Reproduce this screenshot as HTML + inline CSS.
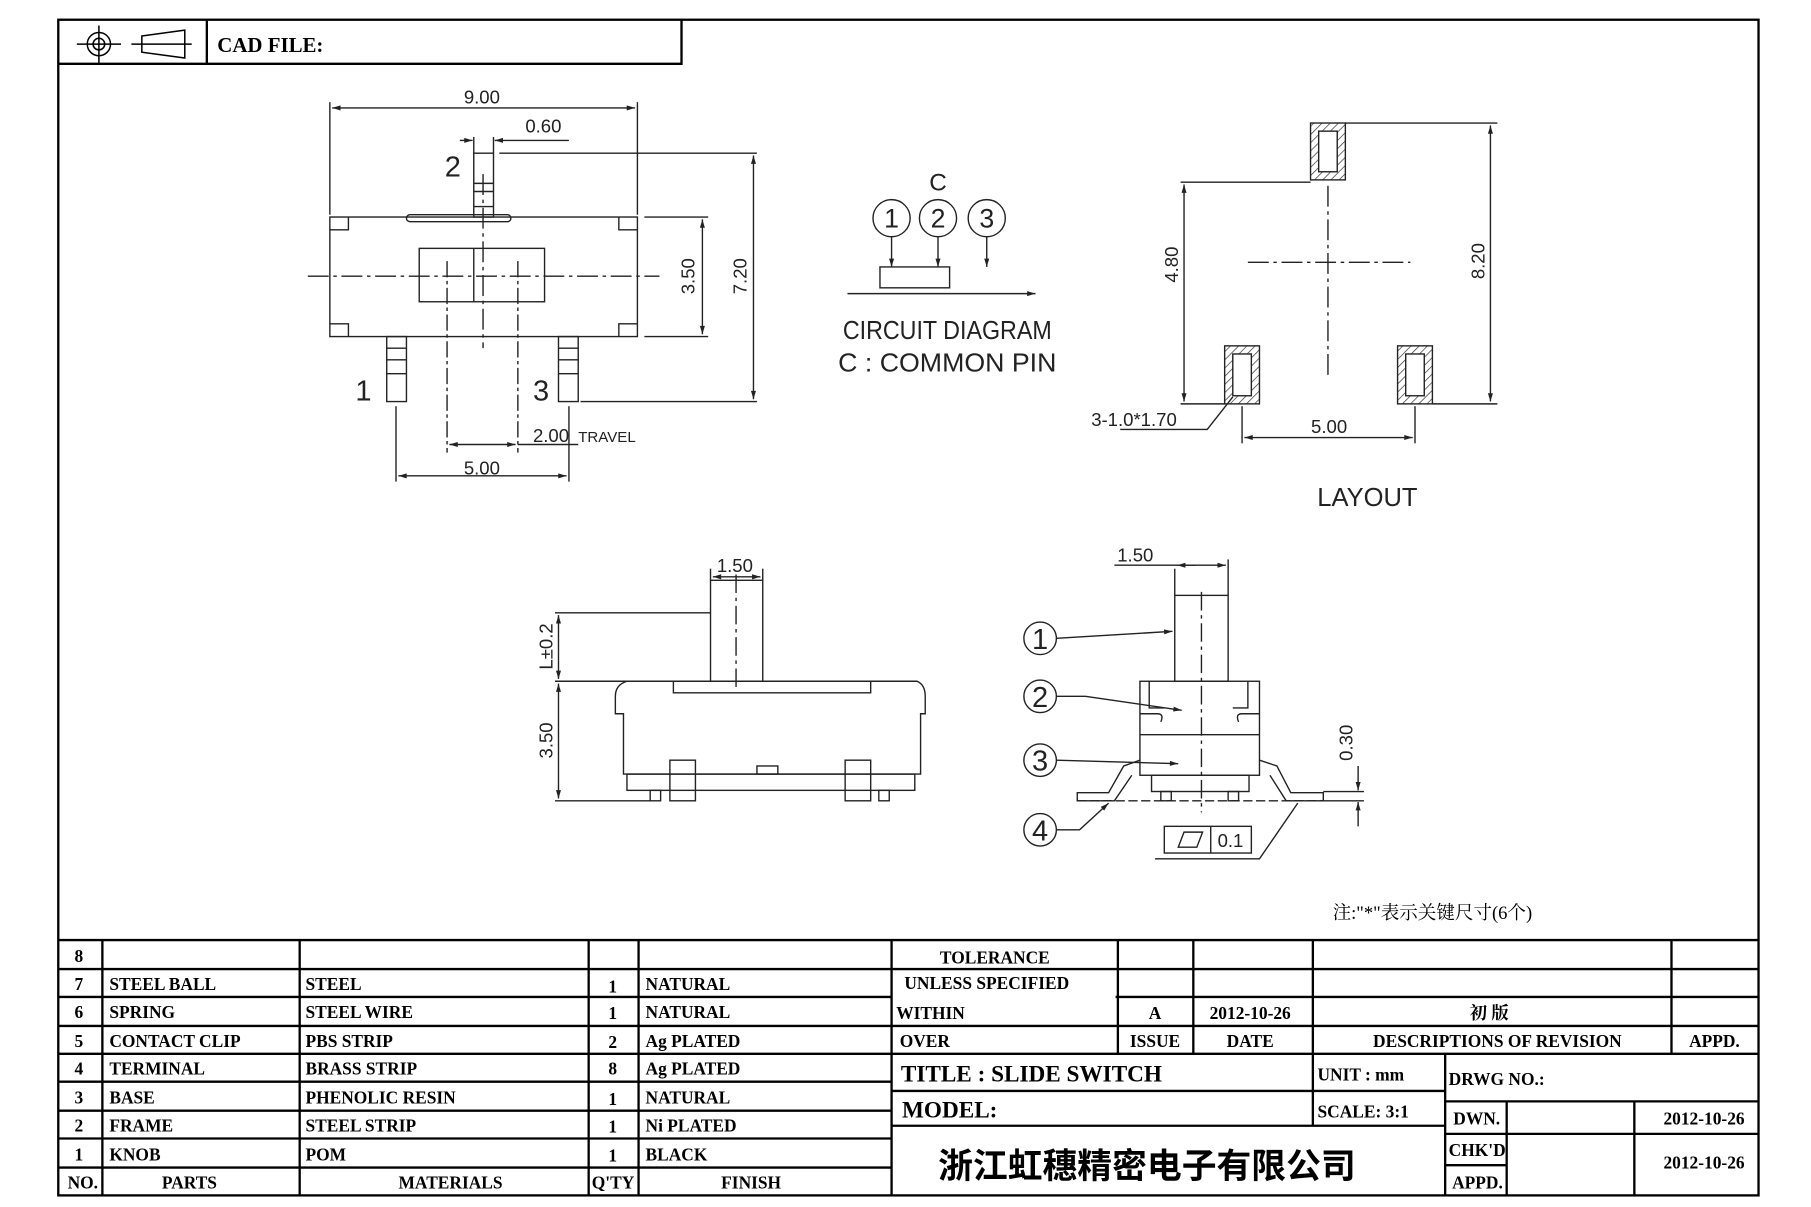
<!DOCTYPE html>
<html><head><meta charset="utf-8"><style>
html,body{margin:0;padding:0;background:#fff;}
svg{display:block;}
.t{font-family:"Liberation Serif",serif;font-weight:bold;fill:#000;}
.d{font-family:"Liberation Sans","DejaVu Sans",sans-serif;fill:#222;}
</style></head><body>
<svg width="1811" height="1207" viewBox="0 0 1560 1040" font-size="16" xmlns="http://www.w3.org/2000/svg">
<defs>
<marker id="a" viewBox="0 0 10 10" refX="10" refY="5" markerWidth="8" markerHeight="6" orient="auto-start-reverse"><path d="M0,2 L10,5 L0,8z" fill="#222"/></marker>
<pattern id="h" width="5" height="5" patternUnits="userSpaceOnUse" patternTransform="rotate(45)"><line x1="0" y1="0" x2="0" y2="5" stroke="#333" stroke-width="1.2"/></pattern>
</defs>
<rect width="1560" height="1040" fill="#fff"/>
<g fill="none" stroke="#000" stroke-width="2">
<rect x="50" y="17" width="1465" height="1013"/>
<polyline points="50,55 587,55 587,17"/>
<line x1="178" y1="17" x2="178" y2="55"/>
</g>
<g fill="none" stroke="#000" stroke-width="1.3">
<circle cx="85" cy="38" r="10"/><circle cx="85" cy="38" r="5"/>
<line x1="66" y1="38" x2="104" y2="38"/><line x1="85" y1="22" x2="85" y2="54"/>
<polygon points="122,31 159,26 159,50 122,45"/><line x1="113" y1="38" x2="165" y2="38"/>
</g>
<text x="187" y="45" class="t" font-size="18">CAD  FILE:</text>

<!-- top-left view -->
<g fill="none" stroke="#222" stroke-width="1.2">
<line x1="284" y1="88" x2="284" y2="185"/><line x1="549" y1="88" x2="549" y2="185"/>
<line x1="286" y1="93" x2="547" y2="93" marker-start="url(#a)" marker-end="url(#a)"/>
<line x1="408" y1="118" x2="408" y2="132"/><line x1="425" y1="118" x2="425" y2="132"/>
<line x1="396" y1="121" x2="407" y2="121" marker-end="url(#a)"/>
<line x1="490" y1="121" x2="426" y2="121" marker-end="url(#a)"/>
<rect x="408" y="132" width="17" height="55"/>
<line x1="408" y1="158" x2="425" y2="158"/><line x1="408" y1="165" x2="425" y2="165"/><line x1="408" y1="178" x2="425" y2="178"/>
<rect x="284" y="187" width="265" height="103"/>
<rect x="350" y="185" width="90" height="6" rx="3"/>
<path d="M284,198 H300 V187 M549,198 H533 V187 M284,279 H300 V290 M549,279 H533 V290"/>
<rect x="361" y="214" width="108" height="46"/>
<line x1="408" y1="214" x2="408" y2="260"/>
<line x1="265" y1="238" x2="568" y2="238" stroke-dasharray="18,4,3,4"/>
<line x1="416" y1="150" x2="416" y2="300" stroke-dasharray="18,4,3,4"/>
<line x1="385" y1="225" x2="385" y2="390" stroke-dasharray="14,3,3,3"/>
<line x1="446" y1="225" x2="446" y2="390" stroke-dasharray="14,3,3,3"/>
<line x1="555" y1="187" x2="610" y2="187"/><line x1="555" y1="290" x2="610" y2="290"/>
<line x1="605" y1="189" x2="605" y2="288" marker-start="url(#a)" marker-end="url(#a)"/>
<line x1="430" y1="132" x2="652" y2="132"/><line x1="500" y1="346" x2="652" y2="346"/>
<line x1="649" y1="134" x2="649" y2="344" marker-start="url(#a)" marker-end="url(#a)"/>
<rect x="333" y="290" width="17" height="56"/><line x1="333" y1="300" x2="350" y2="300"/><line x1="333" y1="310" x2="350" y2="310"/><line x1="333" y1="322" x2="350" y2="322"/>
<rect x="481" y="290" width="17" height="56"/><line x1="481" y1="300" x2="498" y2="300"/><line x1="481" y1="310" x2="498" y2="310"/><line x1="481" y1="322" x2="498" y2="322"/>
<line x1="387" y1="383" x2="444" y2="383" marker-start="url(#a)" marker-end="url(#a)"/>
<line x1="446" y1="383" x2="498" y2="383"/>
<line x1="341" y1="350" x2="341" y2="415"/><line x1="490" y1="350" x2="490" y2="415"/>
<line x1="343" y1="410" x2="488" y2="410" marker-start="url(#a)" marker-end="url(#a)"/>
</g>
<text x="415" y="89" class="d" text-anchor="middle">9.00</text>
<text x="468" y="114" class="d" text-anchor="middle">0.60</text>
<text x="383" y="152" class="d" font-size="25">2</text>
<text x="306" y="345" class="d" font-size="25">1</text>
<text x="459" y="345" class="d" font-size="25">3</text>
<text x="459" y="381" class="d">2.00</text><text x="498" y="381" class="d" font-size="13">TRAVEL</text>
<text x="415" y="409" class="d" text-anchor="middle">5.00</text>
<text class="d" transform="translate(598,238) rotate(-90)" text-anchor="middle">3.50</text>
<text class="d" transform="translate(643,238) rotate(-90)" text-anchor="middle">7.20</text>

<!-- circuit -->
<g fill="none" stroke="#222" stroke-width="1.2">
<circle cx="768" cy="188" r="16"/><circle cx="808" cy="188" r="16"/><circle cx="850" cy="188" r="16"/>
<line x1="768" y1="204" x2="768" y2="230" marker-end="url(#a)"/>
<line x1="808" y1="204" x2="808" y2="230" marker-end="url(#a)"/>
<line x1="850" y1="204" x2="850" y2="230" marker-end="url(#a)"/>
<rect x="758" y="230" width="60" height="18"/>
<line x1="730" y1="253" x2="892" y2="253" marker-end="url(#a)"/>
</g>
<text x="808" y="164" class="d" font-size="21" text-anchor="middle">C</text>
<text x="768" y="196" class="d" font-size="23" text-anchor="middle">1</text>
<text x="808" y="196" class="d" font-size="23" text-anchor="middle">2</text>
<text x="850" y="196" class="d" font-size="23" text-anchor="middle">3</text>
<text x="726" y="292" class="d" font-size="22" textLength="180" lengthAdjust="spacingAndGlyphs">CIRCUIT  DIAGRAM</text>
<text x="722" y="320" class="d" font-size="22" textLength="188" lengthAdjust="spacingAndGlyphs">C : COMMON  PIN</text>

<!-- layout -->
<g fill="none" stroke="#222" stroke-width="1.2">
<rect x="1129" y="106" width="30" height="49" fill="url(#h)"/><rect x="1136" y="113" width="16" height="35" fill="#fff"/>
<rect x="1055" y="298" width="30" height="50" fill="url(#h)"/><rect x="1062" y="305" width="16" height="36" fill="#fff"/>
<rect x="1204" y="298" width="30" height="50" fill="url(#h)"/><rect x="1211" y="305" width="16" height="36" fill="#fff"/>
<line x1="1075" y1="226" x2="1215" y2="226" stroke-dasharray="18,4,3,4"/>
<line x1="1144" y1="160" x2="1144" y2="325" stroke-dasharray="18,4,3,4"/>
<line x1="1017" y1="157" x2="1129" y2="157"/>
<line x1="1020" y1="159" x2="1020" y2="346" marker-start="url(#a)" marker-end="url(#a)"/>
<line x1="1017" y1="348" x2="1055" y2="348"/>
<line x1="1159" y1="106" x2="1290" y2="106"/><line x1="1234" y1="348" x2="1290" y2="348"/>
<line x1="1284" y1="108" x2="1284" y2="346" marker-start="url(#a)" marker-end="url(#a)"/>
<line x1="1070" y1="350" x2="1070" y2="382"/><line x1="1219" y1="350" x2="1219" y2="382"/>
<line x1="1072" y1="377" x2="1217" y2="377" marker-start="url(#a)" marker-end="url(#a)"/>
<polyline points="965,370 1040,370 1062,342"/>
</g>
<text class="d" transform="translate(1015,228) rotate(-90)" text-anchor="middle">4.80</text>
<text class="d" transform="translate(1279,225) rotate(-90)" text-anchor="middle">8.20</text>
<text x="1145" y="373" class="d" text-anchor="middle">5.00</text>
<text x="940" y="367" class="d">3-1.0*1.70</text>
<text x="1178" y="436" class="d" font-size="22" text-anchor="middle">LAYOUT</text>

<!-- side view -->
<g fill="none" stroke="#222" stroke-width="1.2">
<line x1="612" y1="490" x2="612" y2="500"/><line x1="657" y1="490" x2="657" y2="500"/>
<line x1="614" y1="497" x2="655" y2="497" marker-start="url(#a)" marker-end="url(#a)"/>
<rect x="612" y="500" width="45" height="87"/>
<line x1="634" y1="495" x2="634" y2="595" stroke-dasharray="16,4,3,4"/>
<line x1="478" y1="528" x2="612" y2="528"/>
<line x1="478" y1="690" x2="560" y2="690"/>
<line x1="481" y1="530" x2="481" y2="585" marker-start="url(#a)" marker-end="url(#a)"/>
<line x1="481" y1="589" x2="481" y2="688" marker-start="url(#a)" marker-end="url(#a)"/>
<path d="M478,587 H790 Q797,590 797,600 V615 H793 V667 H537 V615 H530 V600 Q530,590 540,587"/>
<path d="M580,587 V597 H750 V587"/>
<rect x="540" y="667" width="248" height="14"/>
<rect x="577" y="655" width="22" height="35"/><rect x="728" y="655" width="22" height="35"/>
<rect x="652" y="660" width="18" height="7"/>
<rect x="560" y="681" width="9" height="9"/><rect x="757" y="681" width="9" height="9"/>
</g>
<text x="633" y="493" class="d" text-anchor="middle">1.50</text>
<text class="d" transform="translate(476,557) rotate(-90)" text-anchor="middle">L±0.2</text>
<text class="d" transform="translate(476,638) rotate(-90)" text-anchor="middle">3.50</text>

<!-- front view -->
<g fill="none" stroke="#222" stroke-width="1.2">
<line x1="1012" y1="490" x2="1012" y2="513"/><line x1="1058" y1="482" x2="1058" y2="513"/>
<line x1="960" y1="487" x2="1056" y2="487" marker-end="url(#a)"/>
<line x1="1014" y1="487" x2="1030" y2="487" marker-start="url(#a)"/>
<rect x="1012" y="513" width="46" height="74"/>
<line x1="1035" y1="510" x2="1035" y2="700" stroke-dasharray="16,4,3,4"/>
<rect x="982" y="587" width="103" height="81"/>
<line x1="982" y1="633" x2="1085" y2="633"/>
<path d="M990,587 V610 H1003 M1075,587 V610 H1062 M982,615 H997 Q1003,615 1000,622 M1085,615 H1070 Q1064,615 1067,622"/>
<path d="M982,655 L968,660 L955,683 H928 V690 H960 L975,668"/>
<path d="M1085,655 L1100,660 L1112,683 H1140 V690 H1108 L1094,668"/>
<rect x="992" y="668" width="84" height="14"/>
<rect x="1000" y="682" width="9" height="8"/><rect x="1058" y="682" width="9" height="8"/>
<line x1="928" y1="690" x2="1140" y2="690" stroke-dasharray="8,3"/>
<line x1="1140" y1="682" x2="1175" y2="682"/><line x1="1140" y1="690" x2="1175" y2="690"/>
<line x1="1170" y1="660" x2="1170" y2="681" marker-end="url(#a)"/>
<line x1="1170" y1="712" x2="1170" y2="691" marker-end="url(#a)"/>
<circle cx="896" cy="550" r="14"/><circle cx="896" cy="600" r="14"/><circle cx="896" cy="655" r="14"/><circle cx="896" cy="715" r="14"/>
<path d="M910,550 L1010,544" marker-end="url(#a)"/>
<path d="M910,600 L935,600 L1018,612" marker-end="url(#a)"/>
<path d="M910,655 L1015,658" marker-end="url(#a)"/>
<path d="M910,715 L930,715 L955,692" marker-end="url(#a)"/>
<rect x="1003" y="712" width="75" height="23"/><line x1="1043" y1="712" x2="1043" y2="735"/>
<polygon points="1015,730 1020,717 1036,717 1031,730"/>
<polyline points="995,740 1085,740 1118,692"/>
</g>
<text x="978" y="484" class="d" text-anchor="middle">1.50</text>
<text x="896" y="559" class="d" font-size="25" text-anchor="middle">1</text>
<text x="896" y="609" class="d" font-size="25" text-anchor="middle">2</text>
<text x="896" y="664" class="d" font-size="25" text-anchor="middle">3</text>
<text x="896" y="724" class="d" font-size="25" text-anchor="middle">4</text>
<text x="1060" y="730" class="d" text-anchor="middle">0.1</text>
<text class="d" transform="translate(1165,640) rotate(-90)" text-anchor="middle">0.30</text>
<text x="1148" y="792" font-family="'Liberation Serif','Noto Serif CJK SC',serif" font-size="16">注:"*"表示关键尺寸(6个)</text>

<!-- table -->
<g stroke="#000" stroke-width="2" fill="none">
<line x1="50" y1="810" x2="1515" y2="810"/>
<line x1="50" y1="835" x2="1515" y2="835"/>
<line x1="50" y1="859" x2="768" y2="859"/><line x1="961" y1="859" x2="1515" y2="859"/>
<line x1="50" y1="884" x2="1515" y2="884"/>
<line x1="50" y1="908" x2="1515" y2="908"/>
<line x1="50" y1="932" x2="768" y2="932"/>
<line x1="50" y1="957" x2="768" y2="957"/>
<line x1="50" y1="981" x2="768" y2="981"/>
<line x1="50" y1="1006" x2="768" y2="1006"/>
<line x1="88" y1="810" x2="88" y2="1030"/><line x1="258" y1="810" x2="258" y2="1030"/>
<line x1="507" y1="810" x2="507" y2="1030"/><line x1="550" y1="810" x2="550" y2="1030"/>
<line x1="768" y1="810" x2="768" y2="1030"/>
<line x1="963" y1="810" x2="963" y2="908"/><line x1="1028" y1="810" x2="1028" y2="908"/>
<line x1="1131" y1="810" x2="1131" y2="970"/><line x1="1440" y1="810" x2="1440" y2="908"/>
<line x1="768" y1="940" x2="1245" y2="940"/><line x1="768" y1="970" x2="1245" y2="970"/>
<line x1="1245" y1="908" x2="1245" y2="1030"/>
<line x1="1245" y1="949" x2="1515" y2="949"/><line x1="1245" y1="977" x2="1515" y2="977"/><line x1="1245" y1="1004" x2="1298" y2="1004"/>
<line x1="1298" y1="949" x2="1298" y2="1030"/><line x1="1408" y1="949" x2="1408" y2="1030"/>
</g>
<g class="t" font-size="15">
<text x="64" y="829">8</text>
<text x="64" y="853">7</text><text x="94" y="853">STEEL  BALL</text><text x="263" y="853">STEEL</text><text x="524" y="855">1</text><text x="556" y="853">NATURAL</text>
<text x="64" y="877">6</text><text x="94" y="877">SPRING</text><text x="263" y="877">STEEL  WIRE</text><text x="524" y="878">1</text><text x="556" y="877">NATURAL</text>
<text x="64" y="902">5</text><text x="94" y="902">CONTACT  CLIP</text><text x="263" y="902">PBS  STRIP</text><text x="524" y="903">2</text><text x="556" y="902">Ag  PLATED</text>
<text x="64" y="926">4</text><text x="94" y="926">TERMINAL</text><text x="263" y="926">BRASS  STRIP</text><text x="524" y="926">8</text><text x="556" y="926">Ag  PLATED</text>
<text x="64" y="951">3</text><text x="94" y="951">BASE</text><text x="263" y="951">PHENOLIC  RESIN</text><text x="524" y="952">1</text><text x="556" y="951">NATURAL</text>
<text x="64" y="975">2</text><text x="94" y="975">FRAME</text><text x="263" y="975">STEEL  STRIP</text><text x="524" y="976">1</text><text x="556" y="975">Ni  PLATED</text>
<text x="64" y="1000">1</text><text x="94" y="1000">KNOB</text><text x="263" y="1000">POM</text><text x="524" y="1001">1</text><text x="556" y="1000">BLACK</text>
<text x="58" y="1024">NO.</text><text x="163" y="1024" text-anchor="middle">PARTS</text><text x="388" y="1024" text-anchor="middle">MATERIALS</text><text x="528" y="1024" text-anchor="middle">Q'TY</text><text x="647" y="1024" text-anchor="middle">FINISH</text>
<text x="857" y="830" text-anchor="middle">TOLERANCE</text>
<text x="850" y="852" text-anchor="middle">UNLESS   SPECIFIED</text>
<text x="772" y="878">WITHIN</text><text x="775" y="902">OVER</text>
<text x="995" y="878" text-anchor="middle">A</text><text x="1077" y="878" text-anchor="middle">2012-10-26</text>
<text x="1283" y="878" text-anchor="middle" font-family="'Noto Serif CJK SC',serif">初  版</text>
<text x="995" y="902" text-anchor="middle">ISSUE</text><text x="1077" y="902" text-anchor="middle">DATE</text>
<text x="1290" y="902" text-anchor="middle">DESCRIPTIONS  OF  REVISION</text><text x="1477" y="902" text-anchor="middle">APPD.</text>
<text x="776" y="932" font-size="20">TITLE  :  SLIDE  SWITCH</text>
<text x="777" y="963" font-size="20">MODEL:</text>
<text x="1135" y="931">UNIT  :    mm</text>
<text x="1135" y="963">SCALE:   3:1</text>
<text x="1248" y="935">DRWG  NO.:</text>
<text x="1252" y="969">DWN.</text><text x="1503" y="969" text-anchor="end">2012-10-26</text>
<text x="1248" y="996">CHK'D</text><text x="1503" y="1007" text-anchor="end">2012-10-26</text>
<text x="1251" y="1024">APPD.</text>
</g>
<text x="988" y="1015" text-anchor="middle" font-family="'Liberation Sans','Noto Sans CJK SC',sans-serif" font-weight="bold" font-size="30">浙江虹穗精密电子有限公司</text>
</svg>
</body></html>
